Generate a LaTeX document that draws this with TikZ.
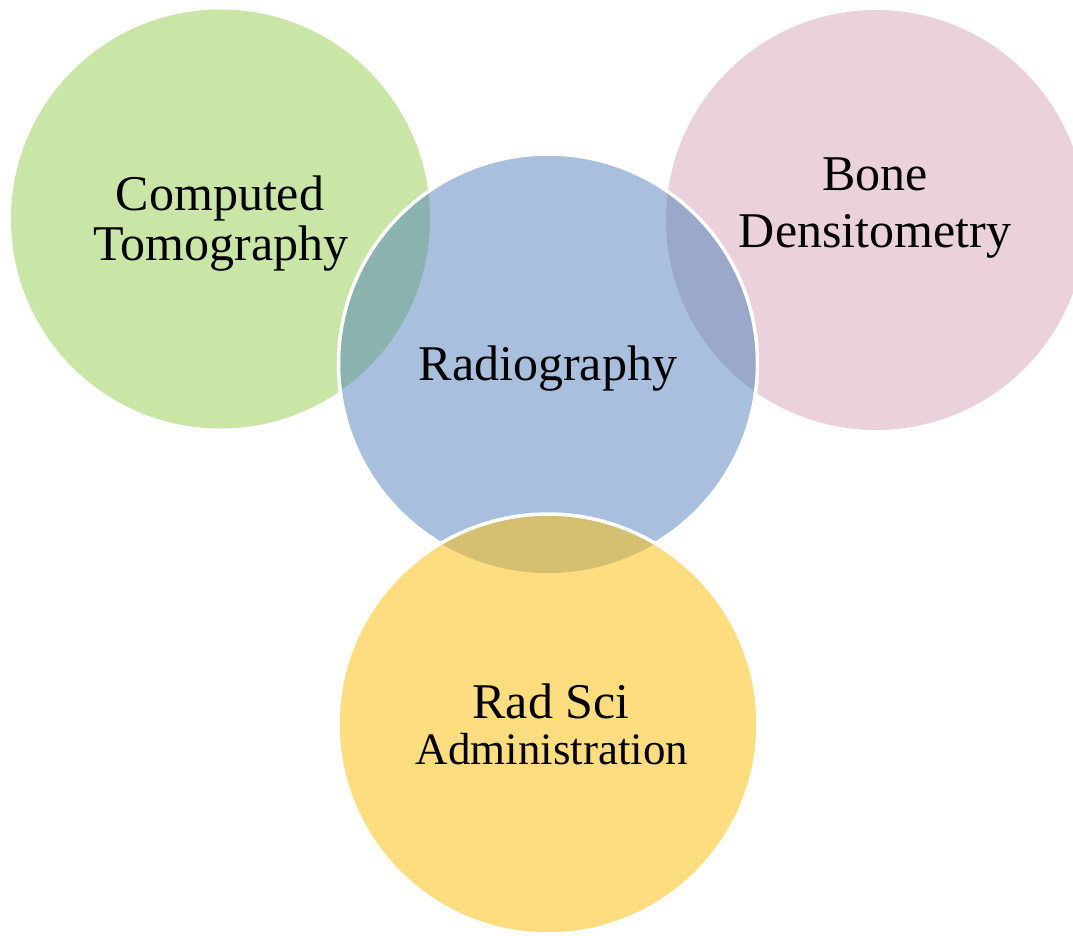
\documentclass[tikz,border=0pt]{standalone}
\usepackage{fontspec}
\setmainfont{Liberation Serif}
\definecolor{cgreen}{HTML}{C9E6A7}
\definecolor{cpink}{HTML}{EAD1DC}
\definecolor{cblue}{HTML}{A8C0DE}
\definecolor{cyellow}{HTML}{FEDD80}
\definecolor{cgb}{HTML}{8AB3AF}
\definecolor{cbp}{HTML}{9CA8CA}
\definecolor{cby}{HTML}{D4C070}
\tikzset{
  lbl/.style={anchor=base, inner sep=0pt, font=\fontsize{50}{50}\selectfont},
  lbls/.style={anchor=base, inner sep=0pt, font=\fontsize{45}{45}\selectfont},
  rim/.style={draw=white, line width=3.5pt}
}
\begin{document}
\begin{tikzpicture}[x=1pt,y=-1pt]
\useasboundingbox (0,0) rectangle (1073,935);
\coordinate (G) at (220.5,219);
\coordinate (P) at (876,220);
\coordinate (B) at (548,363.5);
\coordinate (Y) at (548,724);
% back circles
\fill[cgreen] (G) circle (209.5pt);
\fill[cpink] (P) circle (210pt);
% blue circle
\fill[cblue] (B) circle (209.5pt);
\begin{scope}
  \clip (G) circle (209.5pt);
  \fill[cgb] (B) circle (209.5pt);
\end{scope}
\begin{scope}
  \clip (P) circle (210pt);
  \fill[cbp] (B) circle (209.5pt);
\end{scope}
\draw[rim] (B) circle (209.5pt);
% yellow circle
\fill[cyellow] (Y) circle (210pt);
\begin{scope}
  \clip (B) circle (209.5pt);
  \fill[cby] (Y) circle (210pt);
\end{scope}
\draw[rim] (Y) circle (210pt);
% labels
\node[lbl] (ct1) at (220,210) {Computed};
\node[lbl] (ct2) at (221,260) {Tomography};
\node[lbl] (bd1) at (875,190) {Bone};
\node[lbl] (bd2) at (875,247) {Densitometry};
\node[lbl] (rad) at (548,380) {Radiography};
\node[lbl] (rs1) at (551,718) {Rad Sci};
\node[lbls] (rs2) at (552,764) {Administration};
\end{tikzpicture}
\end{document}
